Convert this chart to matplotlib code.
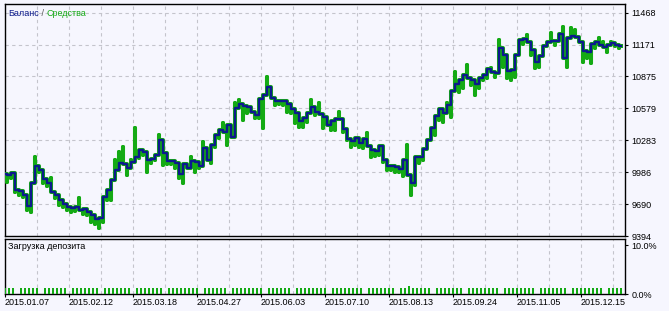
import numpy as np
import matplotlib
matplotlib.use('Agg')
import matplotlib.pyplot as plt

# balance after each trade
balance = [9968, 9959, 9977, 9820, 9811, 9774, 9672, 9885, 10042, 10005,
           9922, 9885, 9801, 9774, 9727, 9690, 9663, 9653, 9663, 9635,
           9644, 9616, 9588, 9551, 9561, 9755, 9820, 9913, 10005, 10070,
           10061, 10024, 10079, 10126, 10190, 10172, 10098, 10107, 10144, 10283,
           10163, 10089, 10089, 10070, 9968, 10061, 10024, 10089, 10079, 10042,
           10209, 10098, 10237, 10329, 10376, 10357, 10422, 10311, 10579, 10616,
           10598, 10589, 10542, 10514, 10663, 10700, 10774, 10672, 10644, 10644,
           10644, 10616, 10570, 10533, 10459, 10487, 10533, 10589, 10542, 10524,
           10496, 10422, 10459, 10477, 10477, 10385, 10292, 10274, 10301, 10255,
           10292, 10227, 10190, 10181, 10227, 10098, 10042, 10042, 10033, 10014,
           10098, 9959, 9885, 10126, 10126, 10200, 10283, 10394, 10505, 10570,
           10533, 10607, 10737, 10802, 10839, 10885, 10857, 10839, 10802, 10857,
           10885, 10940, 10913, 10903, 11135, 11070, 10922, 10931, 11070, 11209,
           11218, 11190, 11116, 11005, 11061, 11153, 11190, 11200, 11200, 11265,
           11042, 11227, 11246, 11237, 11190, 11107, 11098, 11172, 11190, 11163,
           11144, 11163, 11181, 11163, 11153]

# floating equity extreme between consecutive trades
equity = [9894, 9931, 9801, 9774, 9755, 9635, 9616, 10126, 9987, 9885,
          9857, 9931, 9746, 9681, 9663, 9635, 9616, 9626, 9746, 9598,
          9588, 9524, 9505, 9468, 9524, 9727, 9727, 10098, 10172, 10218,
          9959, 10098, 10394, 10116, 10144, 9987, 10070, 10098, 10329, 10051,
          10061, 10061, 10024, 9931, 9885, 10024, 10126, 9987, 10024, 10264,
          10172, 10070, 10218, 10301, 10440, 10237, 10394, 10626, 10653, 10468,
          10533, 10542, 10487, 10487, 10394, 10866, 10690, 10607, 10616, 10607,
          10542, 10533, 10440, 10403, 10403, 10450, 10653, 10514, 10626, 10394,
          10450, 10376, 10376, 10542, 10357, 10283, 10218, 10237, 10218, 10209,
          10348, 10126, 10135, 10144, 10079, 10005, 10005, 9987, 9987, 9950,
          10237, 9774, 9866, 10070, 10098, 10218, 10283, 10329, 10468, 10450,
          10626, 10496, 10913, 10727, 10764, 10977, 10792, 10700, 10764, 10839,
          10857, 10950, 10866, 11209, 10959, 10857, 10839, 10866, 11181, 11172,
          11255, 11070, 10950, 10959, 11070, 11163, 11274, 11163, 11209, 11329,
          10959, 11320, 11302, 11190, 11005, 11042, 10996, 11135, 11227, 11190,
          11098, 11190, 11153, 11135]

# deposit load per trade, %
load = [1.3, 1.3, 1.3, 0, 1.3, 1.3, 1.3, 1.3, 1.3, 0,
        1.3, 1.3, 1.3, 1.3, 1.3, 1.3, 0, 1.3, 1.3, 1.3,
        1.3, 1.3, 1.3, 1.3, 0, 1.3, 1.3, 1.3, 1.3, 1.2,
        1.3, 1.3, 0, 1.3, 1.3, 1.3, 1.3, 1.3, 1.3, 1.3,
        0, 1.3, 1.3, 1.3, 1.3, 1.3, 1.3, 1.3, 1.3, 0,
        1.3, 1.3, 1.3, 1.3, 1.3, 1.3, 0, 1.3, 1.3, 1.3,
        1.3, 1.3, 1.3, 1.3, 1.3, 0, 1.3, 1.3, 1.3, 1.3,
        1.3, 1.3, 0, 1.3, 1.3, 1.3, 1.3, 1.3, 1.3, 1.3,
        1.3, 0, 1.3, 1.3, 1.3, 1.3, 1.3, 1.3, 1.3, 1.3,
        0, 1.3, 1.3, 1.3, 1.3, 1.3, 1.3, 1.3, 0, 1.3,
        1.3, 1.6, 1.3, 1.3, 1.3, 1.3, 1.3, 0, 1.3, 1.3,
        1.3, 1.3, 1.3, 1.3, 1.3, 0, 1.3, 1.3, 1.3, 1.3,
        1.3, 1.3, 1.3, 1.3, 0, 1.3, 1.3, 1.3, 1.3, 1.3,
        1.3, 1.3, 1.3, 0, 1.3, 1.3, 1.3, 1.3, 1.3, 1.3,
        1.3, 0, 1.3, 1.3, 1.3, 1.3, 1.3, 1.3, 1.3, 1.3,
        0, 1.3, 1.3, 1.3, 1.3]

y_ticks = [9394, 9690, 9986, 10283, 10579, 10875, 11171, 11468]
load_ticks = [0.0, 10.0]
load_labels = ['0.0%', '10.0%']
date_labels = ['2015.01.07', '2015.02.12', '2015.03.18', '2015.04.27', '2015.06.03',
               '2015.07.10', '2015.08.13', '2015.09.24', '2015.11.05', '2015.12.15']

bg = '#f6f6fe'
blue = '#0c1a8c'
green = '#14aa14'
gridc = '#c4c4cc'
W, H = 669, 311

plt.rcParams['font.family'] = ['Liberation Sans', 'DejaVu Sans']
plt.rcParams['font.size'] = 6.5

fig = plt.figure(figsize=(W / 100, H / 100), dpi=100)
fig.patch.set_facecolor(bg)

ax = fig.add_axes([4.5 / W, 75 / H, 620 / W, 232 / H])
ax2 = fig.add_axes([4.5 / W, 17 / H, 620 / W, 55.5 / H])

n = len(balance)
x = np.arange(n)

# step path for balance, with vertical equity spikes at each jump
bx, by, ex, ey = [], [], [], []
for i in range(n - 1):
    bx += [i, i + 0.5, i + 0.5]
    by += [balance[i], balance[i], balance[i + 1]]
    ex += [i, i + 0.5, i + 0.5, i + 0.5]
    ey += [balance[i], balance[i], equity[i], balance[i + 1]]
bx.append(n - 1)
by.append(balance[-1])
ex.append(n - 1)
ey.append(balance[-1])

ax.plot(ex, ey, color=green, lw=2.9, zorder=3)
ax.plot(bx, by, color=blue, lw=1.7, zorder=4)

ax2.bar(x, load, width=0.72, color=green, linewidth=0, zorder=3)

for a in (ax, ax2):
    a.set_facecolor(bg)
    a.set_xlim(-0.125, n - 0.125)
    for s in a.spines.values():
        s.set_color('black')
        s.set_linewidth(1.0)
    a.yaxis.tick_right()
    a.tick_params(axis='y', length=2, width=0.8, pad=3, colors='black')
    a.set_xticks(np.arange(0, n, 16))
    a.set_xticks(np.arange(8, n, 16), minor=True)
    a.grid(True, axis='x', which='both', ls=(0, (3, 3)), color=gridc, lw=0.8)
    a.tick_params(axis='x', which='minor', length=0)

ax.set_ylim(9394, 11547)
ax.set_yticks(y_ticks)
ax.set_yticklabels([str(v) for v in y_ticks])
ax.grid(True, axis='y', ls=(0, (3, 3)), color=gridc, lw=0.8)
ax.tick_params(axis='x', which='major', length=0, labelbottom=False)
for lbl in ax.get_yticklabels():
    lbl.set_horizontalalignment('left')

ax2.set_ylim(0, 11.33)
ax2.set_yticks(load_ticks)
ax2.set_yticklabels(load_labels)
ax2.set_xticklabels(date_labels)
ax2.tick_params(axis='x', which='major', length=2, width=0.8, pad=1)
for lbl in ax2.get_xticklabels():
    lbl.set_horizontalalignment('left')

# title texts
t1 = ax.text(3.5 / 620, 1 - 9 / 232, 'Баланс', color=blue, transform=ax.transAxes,
             ha='left', va='center')
t2 = ax.annotate(' / ', xy=(1, 0), xycoords=t1, va='bottom', color='#555555')
ax.annotate('Средства', xy=(1, 0), xycoords=t2, va='bottom', color=green)
ax2.text(3.5 / 620, 1 - 8 / 55.5, 'Загрузка депозита', color='black',
         transform=ax2.transAxes, ha='left', va='center')

fig.savefig('out.png', dpi=100, facecolor=bg)
